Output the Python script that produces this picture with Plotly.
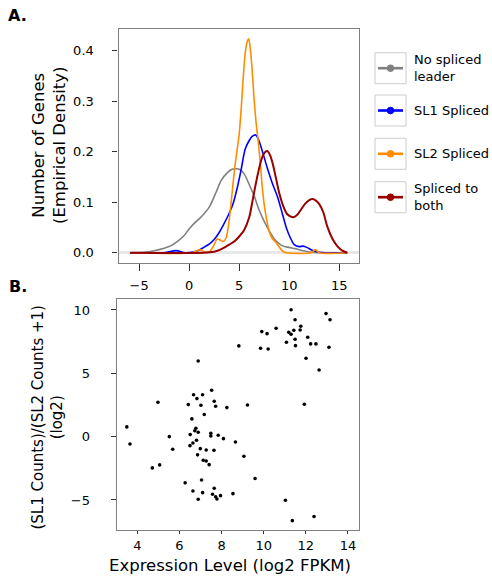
import plotly.graph_objects as go

W, H = 492, 578

# ---------------- Panel A: density curves ----------------
none_x = [-5.9, -4.5, -3.5, -2.5, -1.8, -1.2, -0.5, 0.0, 0.5, 1.0, 1.4, 2.0, 2.7, 3.2, 3.8, 4.3, 4.7, 5.1,
          5.5, 6.0, 6.5, 7.0, 7.5, 8.0, 8.6, 9.2, 9.8, 10.6, 11.4, 12.2, 13.0, 15.8]
none_y = [0, 0.001, 0.004, 0.009, 0.014, 0.022, 0.034, 0.047, 0.058, 0.067, 0.075, 0.090, 0.120, 0.143, 0.158,
          0.165, 0.166, 0.164, 0.156, 0.135, 0.112, 0.084, 0.062, 0.043, 0.025, 0.015, 0.011, 0.008, 0.004,
          0.001, 0, 0]

sl1_x = [-5.9, -2.5, -1.3, -0.4, 0.5, 1.0, 1.5, 2.0, 2.5, 3.0, 3.5, 4.0, 4.4, 4.8, 5.2, 5.6, 6.0, 6.3, 6.65,
         7.0, 7.4, 7.8, 8.3, 8.8, 9.3, 9.7, 10.1, 10.5, 11.0, 11.4, 11.8, 12.3, 13.0, 15.8]
sl1_y = [0, 0, 0.004, 0.0, 0.002, 0.005, 0.011, 0.017, 0.026, 0.040, 0.058, 0.078, 0.098, 0.128, 0.165, 0.205,
         0.222, 0.230, 0.233, 0.220, 0.195, 0.168, 0.138, 0.112, 0.078, 0.050, 0.030, 0.016, 0.012, 0.013,
         0.010, 0.005, 0.001, 0]

sl2_x = [-5.9, 0.3, 0.8, 1.1, 1.5, 2.0, 2.4, 2.8, 3.1, 3.4, 3.7, 4.0, 4.2, 4.4, 4.6, 4.8, 5.0, 5.2, 5.4, 5.6,
         5.8, 5.95, 6.1, 6.3, 6.5, 6.7, 6.9, 7.1, 7.3, 7.5, 7.7, 8.0, 8.3, 8.6, 8.9, 9.2, 9.5, 12.2, 12.6,
         13.0, 15.8]
sl2_y = [0, 0, 0.004, 0.006, 0.002, 0.002, 0.012, 0.027, 0.025, 0.022, 0.030, 0.065, 0.100, 0.140, 0.175,
         0.205, 0.235, 0.285, 0.345, 0.395, 0.418, 0.423, 0.405, 0.360, 0.300, 0.255, 0.220, 0.180, 0.130,
         0.095, 0.070, 0.042, 0.028, 0.022, 0.014, 0.006, 0.001, 0, 0.006, 0, 0]

both_x = [-5.9, 1.5, 2.5, 3.0, 3.5, 4.0, 4.5, 5.0, 5.5, 6.0, 6.4, 6.8, 7.2, 7.5, 7.8, 8.1, 8.4, 8.7, 9.0, 9.4,
          9.8, 10.1, 10.4, 10.8, 11.2, 11.6, 12.0, 12.3, 12.6, 13.0, 13.4, 13.8, 14.3, 14.8, 15.3, 15.8]
both_y = [0, 0, 0.002, 0.005, 0.010, 0.016, 0.022, 0.032, 0.045, 0.070, 0.110, 0.150, 0.183, 0.197, 0.201,
          0.192, 0.172, 0.145, 0.118, 0.092, 0.076, 0.072, 0.070, 0.075, 0.086, 0.097, 0.104, 0.106, 0.104,
          0.096, 0.080, 0.052, 0.028, 0.013, 0.004, 0]

series_names = ["No spliced<br>leader", "SL1 Spliced", "SL2 Spliced", "Spliced to<br>both"]
series_colors = ["#808080", "#0000ff", "#ff8c00", "#990000"]
series_x = [none_x, sl1_x, sl2_x, both_x]
series_y = [none_y, sl1_y, sl2_y, both_y]
series_width = [1.6, 1.6, 1.6, 2.0]

top_xticks = [-5, 0, 5, 10, 15]
top_yticks = [0.0, 0.1, 0.2, 0.3, 0.4]
top_yticklabels = ["0.0", "0.1", "0.2", "0.3", "0.4"]

# ---------------- Panel B: scatter ----------------
expr = [8.82, 6.89, 7.53, 6.67, 7.10, 6.83, 4.98, 7.65, 6.42, 7.02, 7.72, 8.25, 7.18, 6.59, 3.50, 6.78, 6.73,
        6.89, 6.51, 7.49, 7.49, 7.84, 5.52, 8.09, 6.81, 6.64, 3.65, 6.50, 8.66, 6.99, 5.68, 7.27, 7.64, 6.86,
        7.13, 7.27, 7.41, 5.06, 4.71, 7.05, 6.27, 7.65, 6.64, 7.10, 7.57, 7.72, 7.78, 7.95, 6.89, 8.54, 9.06,
        9.59, 11.03, 11.36, 12.39, 11.30, 12.96, 13.15, 11.49, 10.59, 11.76, 11.73, 11.43, 11.19, 11.30, 9.91,
        10.16, 11.49, 11.08, 12.09, 12.23, 12.48, 11.51, 9.85, 10.21, 13.10, 12.01, 12.63, 9.23, 11.93]
ratio = [7.16, 5.97, 3.66, 3.31, 3.31, 3.00, 2.71, 2.79, 2.53, 2.48, 2.40, 2.29, 1.75, 1.40, 0.77, 0.66, 0.47,
         0.35, 0.16, 0.27, 0.05, 0.11, 0.00, -0.16, -0.29, -0.50, -0.58, -0.71, -0.42, -0.95, -1.00, -1.05,
         -1.08, -1.44, -1.87, -1.92, -2.21, -2.23, -2.47, -3.42, -3.65, -4.07, -4.29, -4.42, -4.55, -4.74,
         -4.92, -4.66, -4.94, -4.50, -1.55, -3.31, -5.02, -6.63, -6.31, 10.02, 9.71, 9.23, 9.23, 8.55, 8.71,
         8.42, 8.40, 8.24, 8.08, 8.29, 8.13, 7.69, 7.45, 7.85, 7.32, 7.32, 7.18, 6.98, 6.92, 7.06, 6.19, 5.26,
         2.50, 2.56]

bot_xticks = [4, 6, 8, 10, 12, 14]
bot_yticks = [-5, 0, 5, 10]

FONT = "DejaVu Sans"


def px(x):
    return x / W


def py(y):
    return 1 - y / H


fig = go.Figure()

for name, col, xs, ys, lw in zip(series_names, series_colors, series_x, series_y, series_width):
    fig.add_trace(go.Scatter(x=xs, y=ys, mode="lines", line=dict(color=col, width=lw, shape="spline", smoothing=0.8),
                             name=name.replace("<br>", " "), showlegend=False, xaxis="x", yaxis="y",
                             hoverinfo="skip"))

fig.add_trace(go.Scatter(x=expr, y=ratio, mode="markers", marker=dict(color="black", size=3.6),
                         showlegend=False, xaxis="x2", yaxis="y2"))

axis_common = dict(showline=True, mirror=True, linecolor="#808080", linewidth=1.2, showgrid=False,
                   ticks="outside", tickcolor="#333333", tickfont=dict(family=FONT, size=13, color="black"))

fig.update_layout(
    width=W, height=H, margin=dict(l=0, r=0, t=0, b=0),
    paper_bgcolor="white", plot_bgcolor="white",
    font=dict(family=FONT, color="black"),
    xaxis=dict(domain=[px(118.5), px(358.7)], range=[-7.06, 16.94], tickvals=top_xticks,
               ticklen=7, ticklabelstandoff=3, zeroline=False, anchor="y", **axis_common),
    yaxis=dict(domain=[py(263.3), py(29.3)], range=[-0.021, 0.442], tickvals=top_yticks,
               ticktext=top_yticklabels, ticklen=5, ticklabelstandoff=16,
               zeroline=True, zerolinecolor="#e8e8e8", zerolinewidth=3, anchor="x", **axis_common),
    xaxis2=dict(domain=[px(116.7), px(359.3)], range=[3.02, 14.54], tickvals=bot_xticks,
                ticklen=3, ticklabelstandoff=0, zeroline=False, anchor="y2", **axis_common),
    yaxis2=dict(domain=[py(530), py(299.3)], range=[-7.37, 10.84], tickvals=bot_yticks,
                ticklen=5, ticklabelstandoff=18, zeroline=False, anchor="x2", **axis_common),
)

annotations = []
shapes = []

# Panel labels
annotations.append(dict(text="<b>A.</b>", x=px(17.5), y=py(16), xref="paper", yref="paper", showarrow=False,
                        xanchor="center", yanchor="middle", font=dict(family=FONT, size=16, color="black")))
annotations.append(dict(text="<b>B.</b>", x=px(17.5), y=py(286), xref="paper", yref="paper", showarrow=False,
                        xanchor="center", yanchor="middle", font=dict(family=FONT, size=16, color="black")))

# Axis titles
annotations.append(dict(text="Number of Genes<br>(Empirical Density)", x=px(49), y=py(145), xref="paper",
                        yref="paper", showarrow=False, textangle=-90, xanchor="center", yanchor="middle",
                        font=dict(family=FONT, size=16.5, color="black")))
annotations.append(dict(text="(SL1 Counts)/(SL2 Counts +1)<br>(log2)", x=px(47.5), y=py(418), xref="paper",
                        yref="paper", showarrow=False, textangle=-90, xanchor="center", yanchor="middle",
                        font=dict(family=FONT, size=15, color="black")))
annotations.append(dict(text="Expression Level (log2 FPKM)", x=px(229.5), y=py(565), xref="paper",
                        yref="paper", showarrow=False, xanchor="center", yanchor="middle",
                        font=dict(family=FONT, size=16.5, color="black")))

# Manual legend with boxed handles
box_tops = [52.7, 95.0, 138.3, 181.7]
box_h = 31.0
for name, col, top in zip(series_names, series_colors, box_tops):
    cy = top + box_h / 2
    shapes.append(dict(type="rect", xref="paper", yref="paper", x0=px(375), x1=px(406), y0=py(top + box_h),
                       y1=py(top), line=dict(color="#cccccc", width=1), fillcolor="white"))
    shapes.append(dict(type="line", xref="paper", yref="paper", x0=px(378), x1=px(403), y0=py(cy), y1=py(cy),
                       line=dict(color=col, width=2.6)))
    shapes.append(dict(type="circle", xref="paper", yref="paper", x0=px(387.2), x1=px(393.8), y0=py(cy + 3.3),
                       y1=py(cy - 3.3), line=dict(color=col, width=1), fillcolor=col))
    annotations.append(dict(text=name, x=px(412), y=py(cy), xref="paper", yref="paper", showarrow=False,
                            xanchor="left", yanchor="middle", align="left",
                            font=dict(family=FONT, size=13, color="black")))

fig.update_layout(annotations=annotations, shapes=shapes)

fig.write_html("out.html", config={"displayModeBar": False},
               post_script="document.body.style.margin='0';document.body.style.overflow='hidden';")
